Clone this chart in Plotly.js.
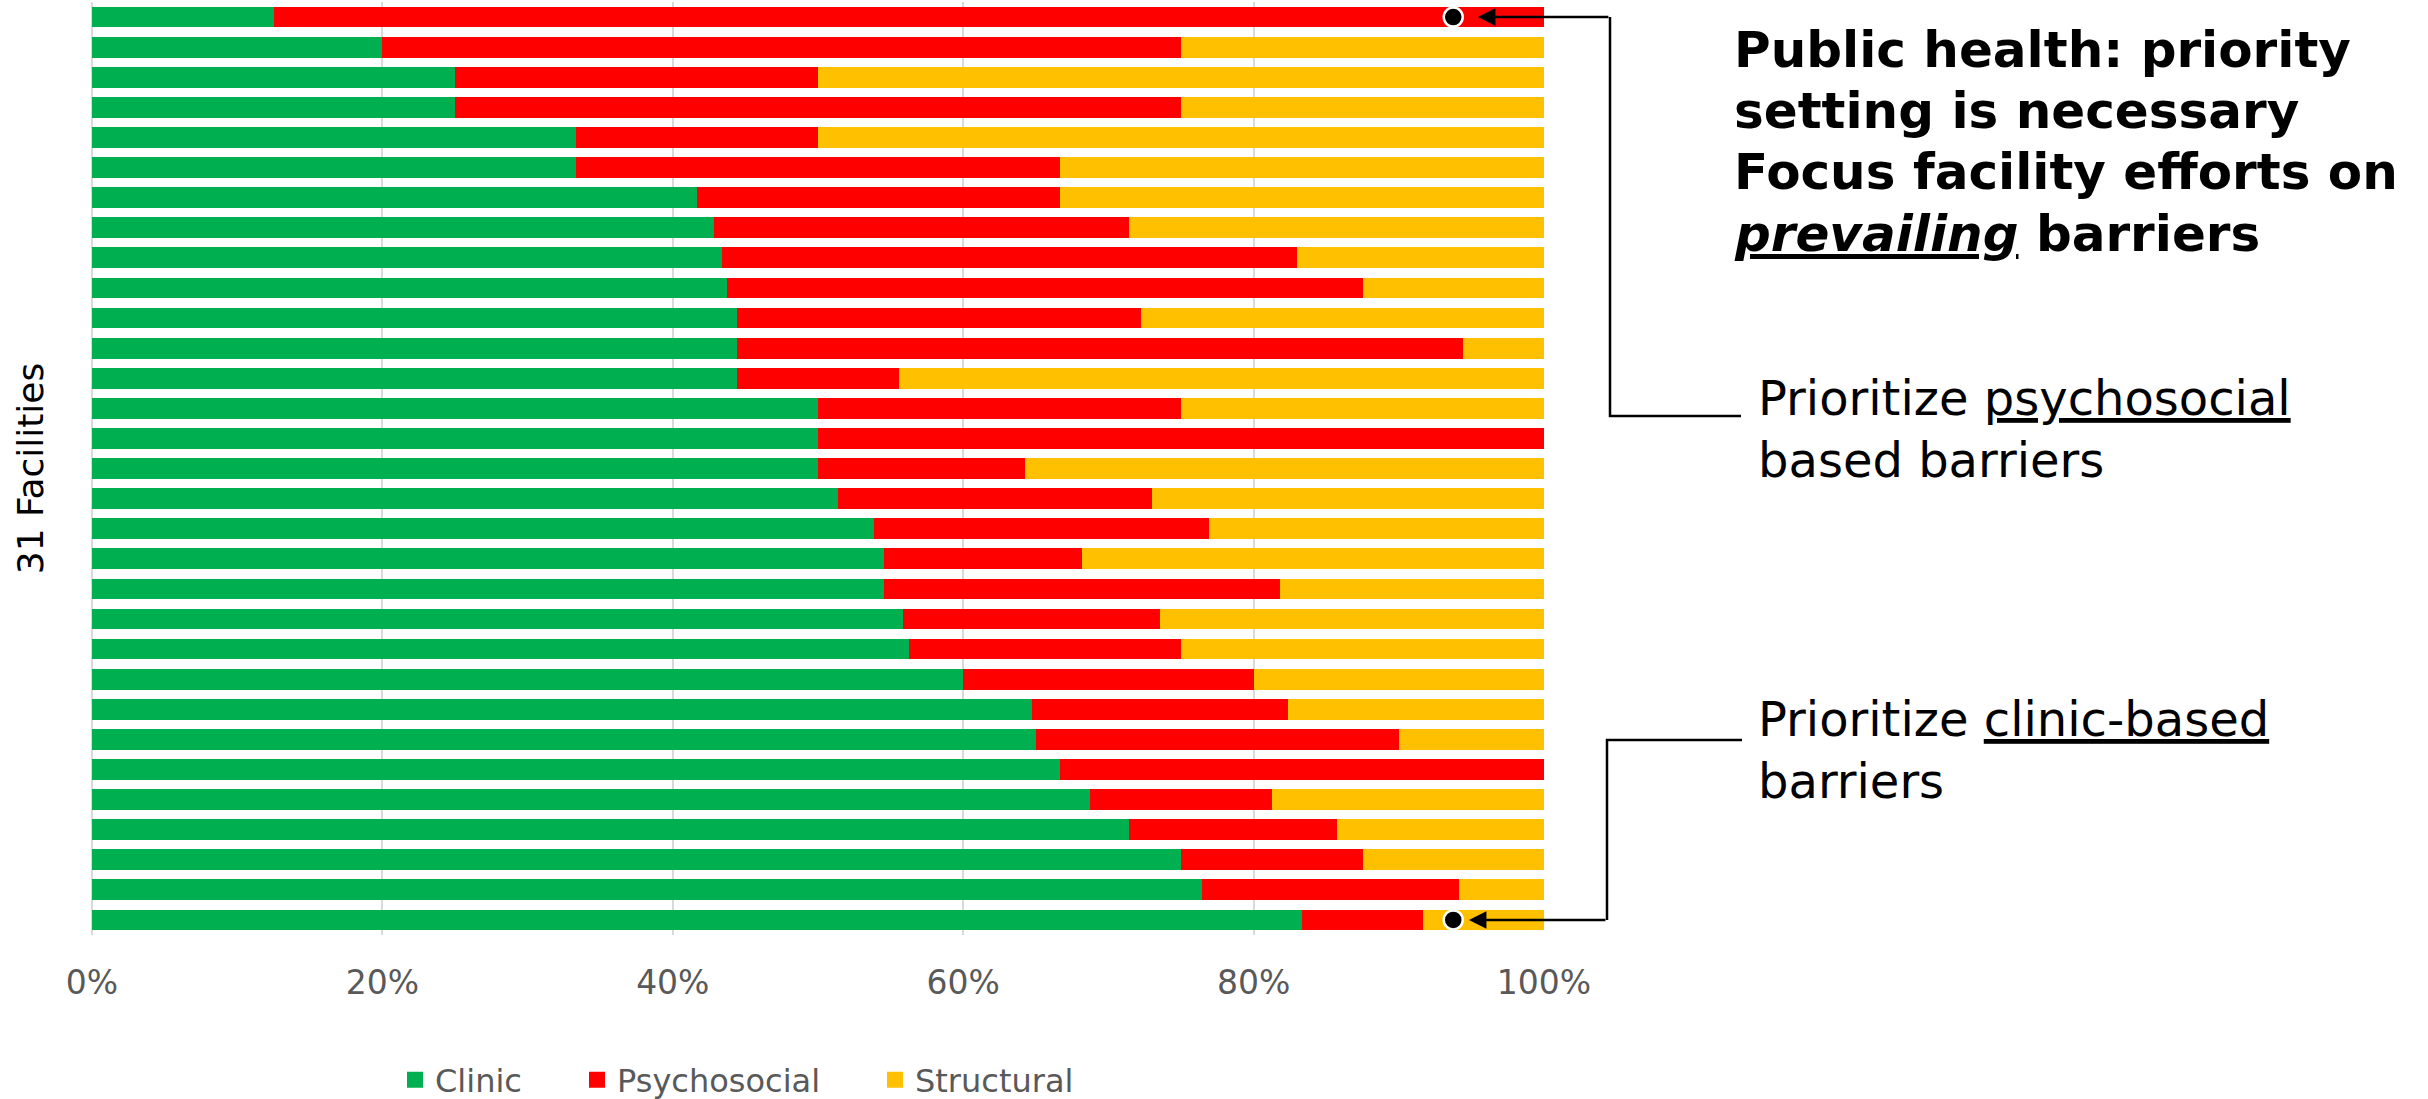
<!DOCTYPE html>
<html>
<head>
<meta charset="utf-8">
<script src="https://cdn.plot.ly/plotly-3.0.1.min.js"></script>
<style>
  html, body { margin: 0; padding: 0; background: #ffffff; }
  #chart { width: 2428px; height: 1099px; }
</style>
</head>
<body>
<div id="chart"></div>
<script>
// Share of reported barriers per facility, in percent (top bar first)
const facilities = ['F01', 'F02', 'F03', 'F04', 'F05', 'F06', 'F07', 'F08', 'F09', 'F10',
                    'F11', 'F12', 'F13', 'F14', 'F15', 'F16', 'F17', 'F18', 'F19', 'F20',
                    'F21', 'F22', 'F23', 'F24', 'F25', 'F26', 'F27', 'F28', 'F29', 'F30', 'F31'];

const clinic = [12.5, 20, 25, 25, 33.33, 33.33, 41.67, 42.86, 43.4, 43.75, 44.44,
                44.44, 44.44, 50, 50, 50, 51.35, 53.85, 54.55, 54.55, 55.88, 56.25,
                60, 64.71, 65, 66.67, 68.75, 71.43, 75, 76.47, 83.33];

const psychosocial = [87.5, 55, 25, 50, 16.67, 33.33, 25, 28.57, 39.6, 43.75, 27.78,
                      50, 11.11, 25, 50, 14.29, 21.62, 23.08, 13.64, 27.27, 17.65, 18.75,
                      20, 17.65, 25, 33.33, 12.5, 14.29, 12.5, 17.65, 8.33];

const structural = [0, 25, 50, 25, 50, 33.34, 33.33, 28.57, 17.0, 12.5, 27.78,
                    5.56, 44.45, 25, 0, 35.71, 27.03, 23.07, 31.81, 18.18, 26.47, 25,
                    20, 17.64, 10, 0, 18.75, 14.28, 12.5, 5.88, 8.34];

const xTickValues = [0, 20, 40, 60, 80, 100];
const xTickLabels = ['0%', '20%', '40%', '60%', '80%', '100%'];

// Highlighted facilities (first and last) and where the marker sits on them
const highlightFacility = ['F01', 'F31'];
const highlightValue = [93.75, 93.75];

const FONT = 'DejaVu Sans, Verdana, sans-serif';
const COLORS = { clinic: '#00B050', psychosocial: '#FF0000', structural: '#FFC000' };

// page geometry
const W = 2428, H = 1099;
const M = { l: 92, r: 884, t: 2, b: 164, autoexpand: false };
const plotW = W - M.l - M.r;
const plotH = H - M.t - M.b;
const px = x => (x - M.l) / plotW;        // pixel -> paper x
const py = y => 1 - (y - M.t) / plotH;    // pixel -> paper y

function barTrace(name, values, color) {
  return {
    type: 'bar', orientation: 'h',
    name: name, x: values, y: facilities,
    marker: { color: color, line: { width: 0 } },
    showlegend: false,
    hoverinfo: 'x+name'
  };
}

// legend keys: square swatches, one legend per category
function legendKey(name, color, legendId) {
  return {
    type: 'scatter', mode: 'markers', x: [null], y: [null],
    name: name, legend: legendId,
    marker: { symbol: 'square', size: 17, color: color, line: { width: 0 } }
  };
}

const traces = [
  barTrace('Clinic', clinic, COLORS.clinic),
  barTrace('Psychosocial', psychosocial, COLORS.psychosocial),
  barTrace('Structural', structural, COLORS.structural),
  {
    type: 'scatter', mode: 'markers',
    x: highlightValue, y: highlightFacility,
    marker: { size: 19, color: '#000000', line: { color: '#ffffff', width: 2.5 } },
    cliponaxis: false, showlegend: false, hoverinfo: 'skip'
  },
  legendKey('Clinic', COLORS.clinic, 'legend'),
  legendKey('Psychosocial', COLORS.psychosocial, 'legend2'),
  legendKey('Structural', COLORS.structural, 'legend3')
];

const legendBase = {
  orientation: 'h', yref: 'container', yanchor: 'middle', xanchor: 'left',
  y: 1 - 1080 / H,
  font: { family: FONT, size: 32, color: '#595959' },
  bgcolor: 'rgba(0,0,0,0)', borderwidth: 0, itemsizing: 'trace'
};

const lineStyle = { color: '#000000', width: 2.5 };

const titleLines = [
  'Public health: priority',
  'setting is necessary',
  'Focus facility efforts on',
  '<i><u>prevailing</u></i> barriers'
];
const titleCenters = [50, 111, 172, 234];

const annotations = titleLines.map((t, i) => ({
  xref: 'paper', yref: 'paper', x: px(1732), y: py(titleCenters[i]),
  xanchor: 'left', yanchor: 'middle', showarrow: false,
  text: '<b>' + t + '</b>',
  font: { family: FONT, size: 50, color: '#000000' }
}));

annotations.push(
  {
    xref: 'paper', yref: 'paper', x: px(1756), y: py(429),
    xanchor: 'left', yanchor: 'middle', showarrow: false, align: 'left',
    text: 'Prioritize <u>psychosocial</u><br>based barriers',
    font: { family: FONT, size: 48, color: '#000000' }
  },
  {
    xref: 'paper', yref: 'paper', x: px(1756), y: py(750),
    xanchor: 'left', yanchor: 'middle', showarrow: false, align: 'left',
    text: 'Prioritize <u>clinic-based</u><br>barriers',
    font: { family: FONT, size: 48, color: '#000000' }
  },
  // arrows pointing at the highlighted facilities
  {
    xref: 'x', yref: 'y', x: 95.45, y: highlightFacility[0],
    axref: 'pixel', ayref: 'pixel', ax: 132, ay: 0,
    text: '', showarrow: true, arrowhead: 2, arrowsize: 1.4,
    arrowwidth: 2.5, arrowcolor: '#000000', standoff: 0
  },
  {
    xref: 'x', yref: 'y', x: 94.83, y: highlightFacility[1],
    axref: 'pixel', ayref: 'pixel', ax: 138, ay: 0,
    text: '', showarrow: true, arrowhead: 2, arrowsize: 1.4,
    arrowwidth: 2.5, arrowcolor: '#000000', standoff: 0
  }
);

// elbow connectors from the arrows to the callout texts
const shapes = [
  {
    type: 'path', xref: 'paper', yref: 'paper', line: lineStyle,
    path: `M${px(1610)},${py(17)} L${px(1610)},${py(416)} L${px(1741)},${py(416)}`
  },
  {
    type: 'path', xref: 'paper', yref: 'paper', line: lineStyle,
    path: `M${px(1607)},${py(920)} L${px(1607)},${py(740)} L${px(1742)},${py(740)}`
  }
];

const layout = {
  width: W, height: H,
  margin: M,
  paper_bgcolor: '#ffffff', plot_bgcolor: '#ffffff',
  barmode: 'stack', bargap: 0.31,
  font: { family: FONT },
  xaxis: {
    range: [0, 100], tickmode: 'array', tickvals: xTickValues, ticktext: xTickLabels,
    showgrid: true, gridcolor: '#D9D9D9', gridwidth: 2,
    zeroline: true, zerolinecolor: '#D9D9D9', zerolinewidth: 2,
    showline: false, ticks: 'outside', ticklen: 10, tickwidth: 1,
    tickcolor: 'rgba(0,0,0,0)', ticklabelstandoff: 8,
    tickfont: { family: FONT, size: 33, color: '#595959' },
    fixedrange: true
  },
  yaxis: {
    type: 'category', autorange: false, range: [facilities.length - 0.5, -0.5],
    showticklabels: false, showgrid: false, zeroline: false, ticks: '',
    title: { text: '31 Facilities', standoff: 36, font: { family: FONT, size: 36, color: '#000000' } },
    fixedrange: true
  },
  legend: Object.assign({}, legendBase, { x: px(395) }),
  legend2: Object.assign({}, legendBase, { x: px(577) }),
  legend3: Object.assign({}, legendBase, { x: px(875) }),
  annotations: annotations,
  shapes: shapes
};

Plotly.newPlot('chart', traces, layout, { displayModeBar: false, staticPlot: true });
</script>
</body>
</html>
